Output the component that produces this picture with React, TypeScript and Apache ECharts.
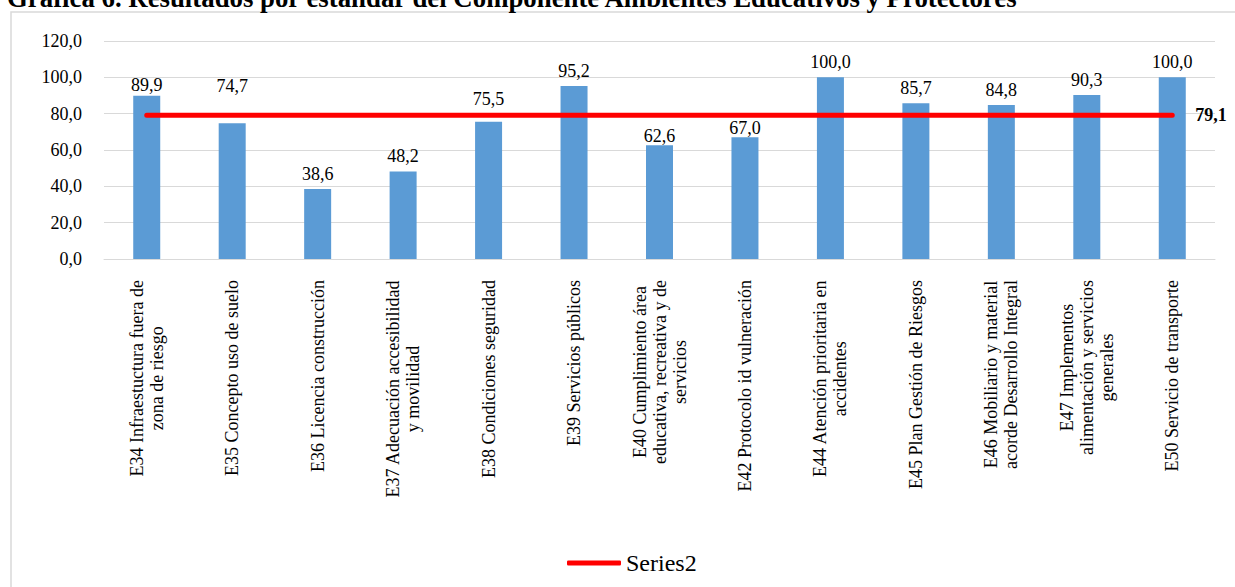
import React, { useEffect, useRef } from "react";
import * as echarts from "echarts";

const categories: string[] = [
  "E34 Infraestuctura fuera de\nzona de riesgo",
  "E35 Concepto uso de suelo",
  "E36 Licencia construcción",
  "E37 Adecuación accesibilidad\ny movilidad",
  "E38 Condiciones seguridad",
  "E39 Servicios públicos",
  "E40 Cumplimiento área\neducativa, recreativa y de\nservicios",
  "E42 Protocolo id vulneración",
  "E44 Atención prioritaria en\naccidentes",
  "E45 Plan Gestión de Riesgos",
  "E46 Mobiliario y material\nacorde Desarrollo Integral",
  "E47 Implementos\nalimentación y servicios\ngenerales",
  "E50 Servicio de transporte",
];

const series1Values: number[] = [89.9, 74.7, 38.6, 48.2, 75.5, 95.2, 62.6, 67.0, 100.0, 85.7, 84.8, 90.3, 100.0];
const series2Values: number[] = [79.1, 79.1, 79.1, 79.1, 79.1, 79.1, 79.1, 79.1, 79.1, 79.1, 79.1, 79.1, 79.1];

// label distances above bars (Excel labels were nudged to clear the red line)
const labelDistances: number[] = [2, 28, 6, 6, 14, 6, 0, 0, 6, 6, 6, 6, 6];

const titleText = "Gráfica 6. Resultados por estándar del Componente Ambientes Educativos y Protectores";

const FONT = "'Liberation Serif', 'Times New Roman', serif";
const fmt = (v: number) => v.toFixed(1).replace(".", ",");

export default function App() {
  const ref = useRef<HTMLDivElement>(null);

  useEffect(() => {
    if (!ref.current) return;
    const chart = echarts.init(ref.current, undefined, { renderer: "svg" });
    chart.setOption({
      animation: false,
      backgroundColor: "#ffffff",
      textStyle: { fontFamily: FONT },
      graphic: [
        {
          type: "rect",
          shape: { x: 11, y: 12, width: 1240, height: 600 },
          style: { fill: "none", stroke: "#d9d9d9", lineWidth: 1.5 },
          silent: true,
        },
        {
          type: "text",
          x: 7,
          y: -2,
          style: {
            text: titleText,
            fontSize: 26.8,
            fontWeight: "bold",
            fontFamily: FONT,
            fill: "#000",
            verticalAlign: "middle",
            align: "left",
          },
          silent: true,
        },
      ],
      grid: { left: 104, right: 20, top: 41, bottom: 328, containLabel: false },
      legend: {
        data: ["Series2"],
        left: 562,
        top: 546,
        icon: "roundRect",
        itemWidth: 54,
        itemHeight: 5,
        textStyle: { fontSize: 24, fontFamily: FONT, color: "#000" },
      },
      xAxis: {
        type: "category",
        data: categories,
        boundaryGap: true,
        axisLine: { show: true, lineStyle: { color: "#d9d9d9", width: 1 } },
        axisTick: { show: false },
        axisLabel: {
          interval: 0,
          rotate: 90,
          margin: 21,
          fontSize: 18,
          fontFamily: FONT,
          color: "#000",
          formatter: (v: string) =>
            v
              .split("\n")
              .map((l) => `{c|${l}}`)
              .join("\n"),
          rich: {
            c: { align: "center", fontSize: 18, fontFamily: FONT, lineHeight: 20, color: "#000" },
          },
        },
      },
      yAxis: {
        type: "value",
        min: 0,
        max: 120,
        interval: 20,
        axisLine: { show: false },
        axisTick: { show: false },
        splitLine: { lineStyle: { color: "#d9d9d9", width: 1 } },
        axisLabel: {
          margin: 22,
          fontSize: 18,
          fontFamily: FONT,
          color: "#000",
          formatter: (v: number) => fmt(v),
        },
      },
      series: [
        {
          name: "Series1",
          type: "bar",
          data: series1Values.map((v, i) => ({
            value: v,
            label: { distance: labelDistances[i] },
          })),
          barWidth: 27,
          itemStyle: { color: "#5b9bd5" },
          label: {
            show: true,
            position: "top",
            distance: 6,
            fontSize: 18,
            fontFamily: FONT,
            color: "#000",
            formatter: (p: any) => fmt(p.value),
          },
          z: 2,
        },
        {
          name: "Series2",
          type: "line",
          data: series2Values,
          showSymbol: false,
          symbol: "none",
          lineStyle: { color: "#ff0000", width: 5, cap: "round" },
          itemStyle: { color: "#ff0000" },
          endLabel: {
            show: true,
            distance: 23,
            fontSize: 18,
            fontWeight: "bold",
            fontFamily: FONT,
            color: "#000",
            formatter: (p: any) => fmt(p.value),
          },
          z: 3,
        },
      ],
    });
    return () => chart.dispose();
  }, []);

  return (
    <div
      ref={ref}
      style={{ position: "absolute", left: 0, top: 0, width: 1235, height: 587 }}
    />
  );
}
